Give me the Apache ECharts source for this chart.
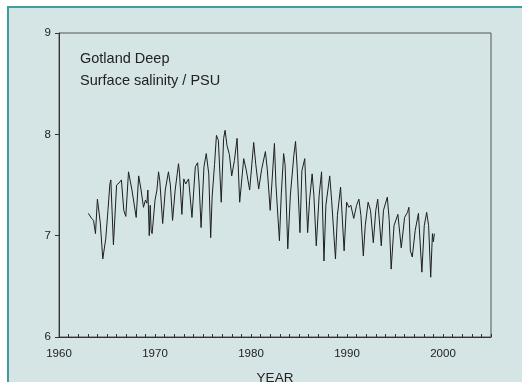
<!DOCTYPE html>
<html><head><meta charset="utf-8">
<script src="https://cdn.jsdelivr.net/npm/echarts@6/dist/echarts.min.js"></script>
<style>
html,body{margin:0;padding:0;background:#fff;width:522px;height:382px;overflow:hidden;}
#panel{position:absolute;left:7px;top:6px;right:0;bottom:0;background:#d5e4e4;border-left:2px solid #3d9e9b;border-top:2px solid #3d9e9b;}
#chart{position:absolute;left:0;top:0;width:522px;height:382px;}
</style></head>
<body>
<div id="panel"></div>
<div id="chart"></div>
<script>
const titleLines = ["Gotland Deep", "Surface salinity / PSU"];
const xAxisName = "YEAR";
const years = [1963.06,1963.4,1963.6,1963.8,1964.0,1964.3,1964.56,1964.87,1965.1,1965.3,1965.4,1965.67,1966.0,1966.25,1966.5,1966.75,1966.96,1967.24,1967.6,1968.04,1968.3,1968.55,1968.8,1969.0,1969.15,1969.26,1969.4,1969.5,1969.6,1969.7,1970.0,1970.2,1970.37,1970.5,1970.8,1971.07,1971.4,1971.6,1971.83,1972.1,1972.3,1972.45,1972.55,1972.8,1973.0,1973.2,1973.5,1973.85,1974.2,1974.44,1974.6,1974.8,1975.1,1975.34,1975.6,1975.8,1975.95,1976.2,1976.4,1976.6,1976.9,1977.15,1977.3,1977.5,1977.75,1977.99,1978.27,1978.55,1978.82,1979.24,1979.5,1979.86,1980.28,1980.5,1980.8,1981.1,1981.5,1981.7,1982.0,1982.2,1982.44,1982.6,1982.96,1983.15,1983.4,1983.55,1983.83,1984.1,1984.46,1984.64,1984.8,1985.1,1985.3,1985.6,1985.9,1986.1,1986.37,1986.55,1986.8,1987.1,1987.35,1987.6,1987.8,1988.2,1988.4,1988.8,1989.0,1989.33,1989.7,1989.96,1990.2,1990.4,1990.7,1991.0,1991.24,1991.45,1991.7,1991.9,1992.2,1992.45,1992.74,1993.0,1993.2,1993.57,1993.8,1994.2,1994.4,1994.6,1994.9,1995.3,1995.65,1996.0,1996.3,1996.45,1996.6,1996.8,1997.1,1997.44,1997.8,1998.05,1998.3,1998.5,1998.72,1998.9,1999.0,1999.1];
const salinity = [7.22,7.17,7.15,7.02,7.36,7.13,6.77,6.97,7.25,7.51,7.55,6.91,7.50,7.52,7.55,7.25,7.19,7.63,7.45,7.18,7.59,7.45,7.28,7.35,7.32,7.45,7.00,7.30,7.05,7.02,7.35,7.45,7.63,7.54,7.12,7.45,7.63,7.50,7.15,7.45,7.60,7.71,7.62,7.21,7.56,7.51,7.56,7.18,7.68,7.72,7.50,7.08,7.68,7.81,7.61,6.98,7.38,7.70,7.99,7.94,7.33,7.96,8.04,7.89,7.80,7.59,7.74,7.96,7.33,7.76,7.65,7.45,7.92,7.70,7.46,7.65,7.83,7.65,7.25,7.55,7.91,7.50,6.95,7.40,7.81,7.70,6.87,7.40,7.79,7.93,7.68,7.03,7.64,7.76,7.03,7.35,7.61,7.40,6.90,7.40,7.63,6.75,7.30,7.59,7.35,6.77,7.20,7.48,6.85,7.33,7.28,7.30,7.17,7.30,7.36,7.20,6.80,7.10,7.33,7.25,6.93,7.25,7.36,6.90,7.25,7.38,7.15,6.67,7.10,7.21,6.88,7.18,7.23,7.28,6.85,6.79,7.05,7.22,6.64,7.10,7.23,7.10,6.59,7.02,6.94,7.02];
const xTicks = [1960, 1970, 1980, 1990, 2000];
const yTicks = [6, 7, 8, 9];

const chart = echarts.init(document.getElementById('chart'), null, {renderer: 'canvas'});
const font = 'Liberation Sans, Arial, sans-serif';
chart.setOption({
  backgroundColor: 'transparent',
  animation: false,
  title: [
    {text: titleLines[0], left: 75, top: 46, textStyle: {fontFamily: font, fontSize: 14.5, fontWeight: 'normal', color: '#222'}},
    {text: titleLines[1], left: 75, top: 68, textStyle: {fontFamily: font, fontSize: 14.5, fontWeight: 'normal', color: '#222'}}
  ],
  grid: {left: 59, right: 31, top: 33, bottom: 45, containLabel: false, outerBoundsMode: 'none',
    show: true, borderColor: '#555', borderWidth: 1, backgroundColor: 'transparent'},
  xAxis: {
    type: 'value', min: xTicks[0], max: 2005, interval: 10,
    name: xAxisName, nameLocation: 'middle', nameGap: 34,
    nameTextStyle: {fontFamily: font, fontSize: 13.5, color: '#222'},
    axisLine: {lineStyle: {color: '#333', width: 1}},
    axisTick: {show: true, inside: true, length: 3, lineStyle: {color: '#333'}},
    minorTick: {show: true, splitNumber: 10, length: 3, lineStyle: {color: '#333'}},
    splitLine: {show: false},
    axisLabel: {fontFamily: font, fontSize: 11.5, color: '#222', margin: 11,
      formatter: v => xTicks.includes(v) ? String(v) : ''}
  },
  yAxis: {
    type: 'value', min: yTicks[0], max: yTicks[yTicks.length-1], interval: 1,
    axisLine: {show: true, lineStyle: {color: '#333', width: 1}},
    axisTick: {show: true, inside: false, length: 4, lineStyle: {color: '#333'}},
    splitLine: {show: false},
    axisLabel: {fontFamily: font, fontSize: 11.5, color: '#222', margin: 8}
  },
  series: [{
    type: 'line', showSymbol: false, symbol: 'none',
    data: years.map((y, i) => [y, salinity[i]]),
    lineStyle: {color: '#1e1e1e', width: 1}
  }]
});
</script>
</body></html>
